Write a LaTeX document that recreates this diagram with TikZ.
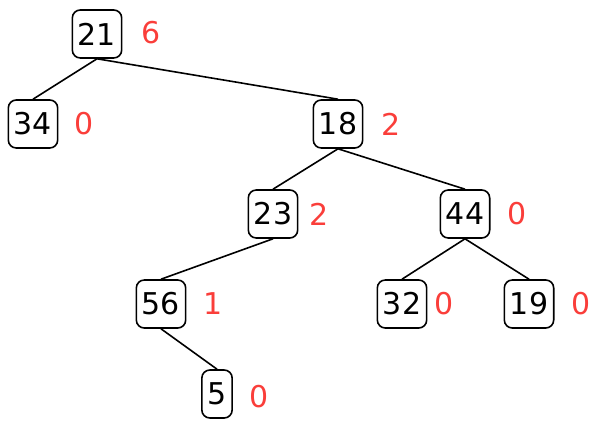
\documentclass[tikz,border=0pt]{standalone}
\usepackage{fontspec}
\setmainfont{DejaVu Sans}
\usepackage{xcolor}
\usepackage{tikz}
\usetikzlibrary{positioning}
\definecolor{rankred}{RGB}{250,62,58}

\begin{document}
\begin{tikzpicture}[
  x=0.5pt, y=-0.5pt,
  key/.style={draw, rounded corners=4pt, line width=0.8pt, minimum height=24pt, inner xsep=2.8pt, font=\fontsize{15}{18}\selectfont},
  rank/.style={text=rankred, inner sep=0, font=\fontsize{15}{18}\selectfont},
  edge/.style={line width=0.8pt},
]
\useasboundingbox (0,0) rectangle (597,432);

% Keys
\node[key] (k21) at (97,34) {21};
\node[key] (k34) at (33,124) {34};
\node[key] (k18) at (338,124) {18};
\node[key] (k23) at (273,214) {23};
\node[key] (k44) at (465,214) {44};
\node[key] (k56) at (161,304) {56};
\node[key] (k32) at (402,304) {32};
\node[key] (k19) at (529,304) {19};
\node[key] (k5) at (217,394) {5};

% Ranks
\node[rank] (r21) at (151,33) {6};
\node[rank] (r34) at (84,124) {0};
\node[rank] (r18) at (391,124) {2};
\node[rank] (r23) at (319,214) {2};
\node[rank] (r44) at (517,214) {0};
\node[rank] (r56) at (213,304) {1};
\node[rank] (r32) at (444,304) {0};
\node[rank] (r19) at (581,304) {0};
\node[rank] (r5) at (259,397) {0};

% Edges
\draw[edge] (k21.south) -- (k34.north);
\draw[edge] (k21.south) -- (k18.north);
\draw[edge] (k18.south) -- (k23.north);
\draw[edge] (k18.south) -- (k44.north);
\draw[edge] (k23.south) -- (k56.north);
\draw[edge] (k44.south) -- (k32.north);
\draw[edge] (k44.south) -- (k19.north);
\draw[edge] (k56.south) -- (k5.north);

\end{tikzpicture}
\end{document}
